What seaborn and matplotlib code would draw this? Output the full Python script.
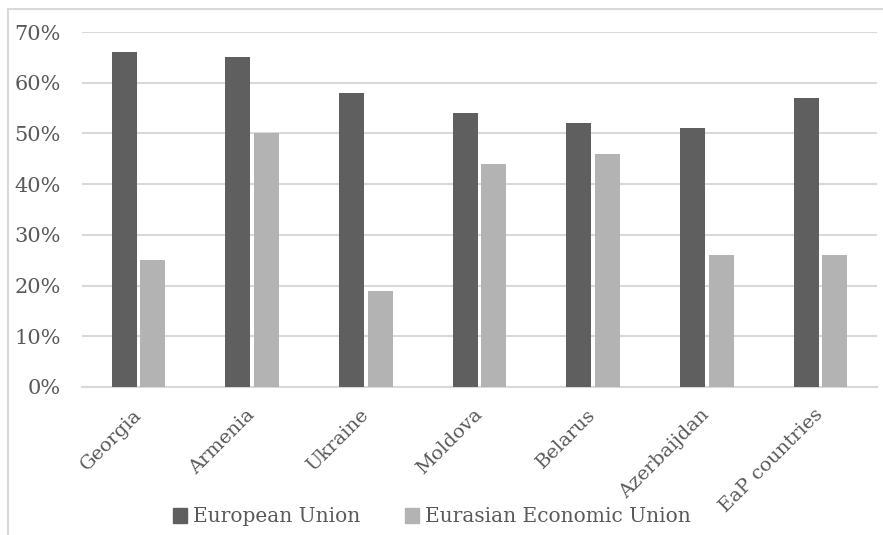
import matplotlib
matplotlib.use("Agg")
import matplotlib.pyplot as plt
import seaborn as sns
import pandas as pd
from matplotlib.patches import Rectangle
from matplotlib.ticker import PercentFormatter

countries = ["Georgia", "Armenia", "Ukraine", "Moldova", "Belarus", "Azerbaijdan", "EaP countries"]
eu_values = [0.66, 0.65, 0.58, 0.54, 0.52, 0.51, 0.57]
eaeu_values = [0.25, 0.50, 0.19, 0.44, 0.46, 0.26, 0.26]
series_names = ["European Union", "Eurasian Economic Union"]
yticks = [0.0, 0.1, 0.2, 0.3, 0.4, 0.5, 0.6, 0.7]

df = pd.DataFrame({
    "country": countries * 2,
    "value": eu_values + eaeu_values,
    "series": [series_names[0]] * len(countries) + [series_names[1]] * len(countries),
})

sns.set_style("white")
plt.rcParams["font.family"] = ["DejaVu Serif"]
text_color = "#595959"

W, H = 883, 535
fig = plt.figure(figsize=(W / 100, H / 100), dpi=100)
ax = fig.add_axes([81.7 / W, 1 - 387 / H, (877.3 - 81.7) / W, (387 - 32) / H])

palette = {series_names[0]: "#5f5f5f", series_names[1]: "#b3b3b3"}
sns.barplot(data=df, x="country", y="value", hue="series", palette=palette,
            width=0.5, gap=0.12, ax=ax, legend=False, zorder=3,
            edgecolor="none", linewidth=0)

ax.set_ylim(0, 0.7)
ax.set_xlim(-0.5, len(countries) - 0.5)
ax.set_yticks(yticks)
ax.yaxis.set_major_formatter(PercentFormatter(1.0, decimals=0))
ax.grid(axis="y", color="#d9d9d9", linewidth=1.5, zorder=0)
ax.grid(axis="x", visible=False)
for s in ["top", "right", "left"]:
    ax.spines[s].set_visible(False)
ax.spines["bottom"].set_color("#d9d9d9")
ax.spines["bottom"].set_linewidth(1.5)
ax.set_xlabel("")
ax.set_ylabel("")
ax.tick_params(axis="both", length=0, colors=text_color)
ax.tick_params(axis="y", pad=15, labelsize=15)
ax.tick_params(axis="x", pad=18, labelsize=14)
for lab in ax.get_xticklabels():
    lab.set_rotation(45)
    lab.set_ha("right")
    lab.set_va("center")
    lab.set_rotation_mode("anchor")

# legend
handles = [Rectangle((0, 0), 1, 1, color=palette[n]) for n in series_names]
fig.legend(handles, series_names, loc="center", bbox_to_anchor=(432 / W, 1 - 517 / H),
           ncol=2, frameon=False, fontsize=14.5, labelcolor=text_color,
           handlelength=0.7, handleheight=0.7, handletextpad=0.3, columnspacing=2.2)

# chart border
fig.patches.append(Rectangle((8 / W, -0.1), 1.2, 1 - 9 / H + 0.1, transform=fig.transFigure,
                             fill=False, edgecolor="#d9d9d9", linewidth=1.5))

fig.savefig("out.png", dpi=100)
